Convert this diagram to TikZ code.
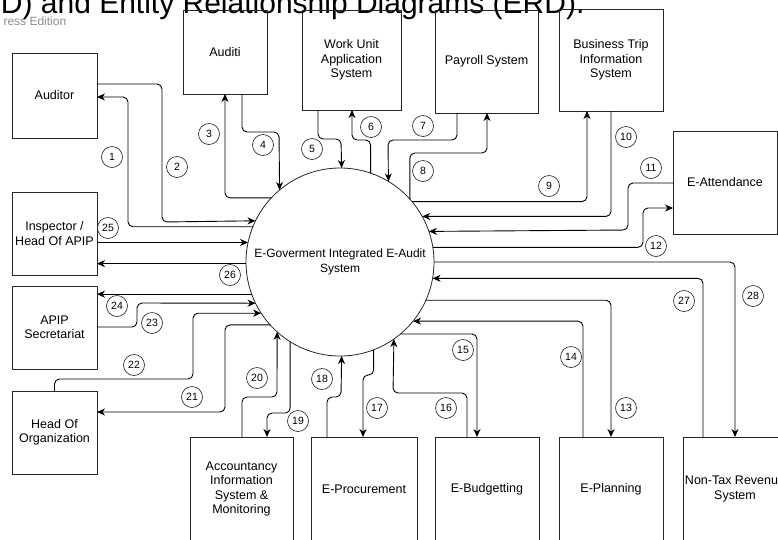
\documentclass[tikz,border=0pt]{standalone}
\usepackage{fontspec}
\setmainfont{Liberation Sans}
\usetikzlibrary{arrows.meta,shapes}

\begin{document}
\begin{tikzpicture}[x=1pt, y=-1pt,
font=\fontsize{12.5}{14.5}\selectfont,
ent/.style={draw=black!85, line width=0.8pt, align=center, inner sep=0pt, outer sep=0pt,
    minimum width=104pt, minimum height=103pt},
flow/.style={draw=black, line width=0.9pt, rounded corners=5pt,
    -{Stealth[length=8pt, width=7pt, inset=2.5pt]}},
num/.style={draw=black!80, circle, line width=0.7pt, inner sep=0pt, minimum size=21pt,
    font=\fontsize{10.5}{12}\selectfont},
]
\useasboundingbox (0,0) rectangle (778,539);
\clip (0,0) rectangle (778,539);

\node[anchor=base east, text depth=0pt, font=\fontsize{30}{34}\selectfont] (title) at (588,13) {FD) and Entity Relationship Diagrams (ERD).};
\node[anchor=base west, text=black!45, font=\fontsize{12}{13}\selectfont] (edition) at (0,25) {ress Edition};

\node[draw=black!85, line width=0.8pt, circle, inner sep=0pt, outer sep=0pt, minimum size=188pt, align=center,
  font=\fontsize{12}{14.5}\selectfont] (sys) at (340,262) {E-Goverment Integrated E-Audit\\System};

\node[ent, minimum width=85pt, minimum height=85pt] (auditor) at (54.5,95.5) {Auditor};
\node[ent, minimum width=84pt, minimum height=84pt] (auditi) at (225,52) {Auditi};
\node[ent, minimum width=99pt, minimum height=100pt] (workunit) at (351.5,60) {Work Unit\\Application\\System};
\node[ent, minimum width=103pt] (payroll) at (486.5,61.5) {Payroll System};
\node[ent, minimum height=102pt] (bustrip) at (611,60) {Business Trip\\Information\\System};
\node[ent] (eatt) at (725,182.5) {E-Attendance};
\node[ent, minimum width=85pt, minimum height=83pt] (inspector) at (54.5,233.5) {Inspector /\\Head Of APIP};
\node[ent, minimum width=85pt, minimum height=83pt] (apip) at (54.5,327.5) {APIP\\Secretariat};
\node[ent, minimum width=85pt, minimum height=83pt] (headorg) at (54.5,432.5) {Head Of\\Organization};
\node[ent, minimum width=103pt, minimum height=104pt] (accinfo) at (241.5,489) {Accountancy\\Information\\System \&\\Monitoring};
\node[ent, minimum width=106pt, minimum height=104pt] (eproc) at (364,489) {E-Procurement};
\node[ent, minimum height=104pt] (ebudget) at (487,489) {E-Budgetting};
\node[ent, minimum height=104pt] (eplan) at (611,489) {E-Planning};
\node[ent, minimum height=104pt] (nontax) at (735,489) {Non-Tax Revenue\\System};

\draw[flow] (sys.158.8) -| (128,97) -- (auditor.east |- 0,97);
\draw[flow] (auditor.east |- 0,84) -| (162,222) -- (sys.154.8);
\draw[flow] (sys.137.9) -| (auditi.south);
\draw[flow] (auditi.south -| 242,0) |- (279,132) -- (sys.130.5);
\draw[flow] (workunit.south -| 318,0) |- (341,139) -- (sys.89.4);
\draw[flow] (sys.71.4) |- (352,140) -- (workunit.south -| 352,0);
\draw[flow] (payroll.south -| 457,0) |- (388,140) -- (sys.59.3);
\draw[flow] (sys.42.8) |- (487,153) -- (payroll.south -| 487,0);
\draw[flow] (sys.40.5) -| (bustrip.south -| 587,0);
\draw[flow] (bustrip.south -| 611,0) |- (sys.29.3);
\draw[flow] (eatt.west |- 0,183) -| (628,230) -- (sys.19.9);
\draw[flow] (sys.9.8) -| (643,208) -- (eatt.west |- 0,208);
\draw[flow] (sys.-24.5) -| (eplan.north);
\draw[flow] (eplan.north -| 583,0) |- (sys.-39.7);
\draw[flow] (sys.-50) -| (ebudget.north -| 477,0);
\draw[flow] (ebudget.north -| 467,0) |- (393,393) -- (sys.-55.7);
\draw[flow] (sys.-69.4) |- (363,375) -- (eproc.north -| 363,0);
\draw[flow] (eproc.north -| 327,0) |- (341,397) -- (sys.-89.4);
\draw[flow] (sys.-122.1) |- (267,413) -- (accinfo.north -| 267,0);
\draw[flow] (accinfo.north -| 242,0) |- (277,397) -- (sys.-132.1);
\draw[flow] (sys.-138.7) -| (225,412) -- (headorg.east |- 0,412);
\draw[flow] (headorg.north) |- (193,379) |- (sys.-147.1);
\draw[flow] (apip.east |- 0,327) -| (137,303) -- (sys.-154.1);
\draw[flow] (sys.-160.7) -- (apip.east |- sys.-160.7);
\draw[flow] (inspector.east |- sys.168.3) -- (sys.168.3);
\draw[flow] (sys.-179.4) -- (inspector.east |- sys.-179.4);
\draw[flow] (nontax.north -| 703,0) |- (sys.-10.4);
\draw[flow] (sys.-0.6) -| (nontax.north);

\foreach \n/\x/\y in {1/112/157, 2/177/167, 3/209/134, 4/263/145, 5/312/149, 6/371/127,
  7/423/126, 8/423/171, 9/549/186, 10/626/137, 11/651/168, 12/656/246, 13/626/408,
  14/571/357, 15/463/350, 16/446/408, 17/377/408, 18/322/379, 19/298/421, 20/257/378,
  21/192/397, 22/134/365, 23/152/323, 24/117/306, 25/108/228, 26/230/275, 27/684/301, 28/753/296}
  \node[num] (num\n) at (\x,\y) {\n};

\end{tikzpicture}
\end{document}
